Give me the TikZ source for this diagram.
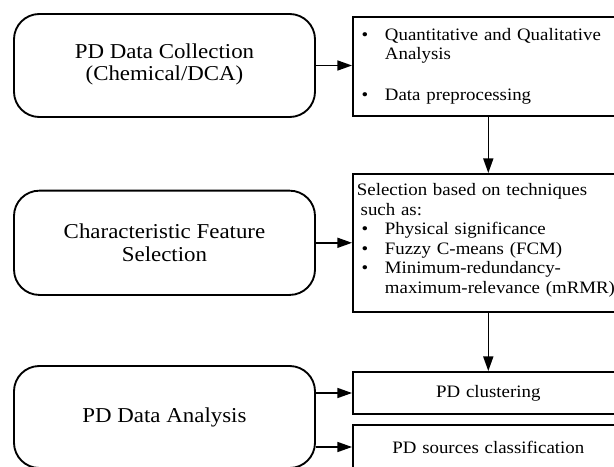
\documentclass[tikz,border=0pt]{standalone}
\usepackage{fontspec}
\setmainfont{Liberation Serif}[FakeStretch=1.08]
\usetikzlibrary{arrows.meta}

\tikzset{every picture/.style={line width=1.2pt}}
\tikzset{
  stagebox/.style={draw, rounded corners=19pt, line width=1.4pt, align=center,
    minimum width=225.75pt, font=\fontsize{15.9}{17}\selectfont},
  listbox/.style={draw, line width=1.4pt, align=left, text width=197pt,
    inner xsep=3pt, font=\fontsize{13.1}{14.6}\selectfont},
  flow/.style={-{Triangle[length=11pt,width=7.5pt]}, line width=1.2pt}
}
\newcommand{\bitem}[1]{\hspace*{3.5pt}\makebox[17.5pt][l]{\textbullet}#1}

\begin{document}
\begin{tikzpicture}[x=0.75pt,y=0.75pt,yscale=-1,xscale=1]
\useasboundingbox (0,0) rectangle (614,467);

% left column
\node[stagebox, minimum height=77.25pt] (coll) at (164.5,65.5) {PD Data Collection\\(Chemical/DCA)\rule[-5pt]{0pt}{5pt}};
\node[stagebox, minimum height=78.2pt] (feat) at (164.5,242.8) {Characteristic Feature\\Selection};
\node[stagebox, minimum height=76.5pt] (anal) at (164.5,417) {PD Data Analysis};

% right column
\node[listbox, minimum height=74.5pt] (prep) at (488.3,66.4) {%
  \bitem{Quantitative and Qualitative}\\
  \hspace*{21pt}Analysis\\[16pt]
  \bitem{Data preprocessing}};
\node[listbox, minimum height=103.5pt] (sel) at (488.3,243) {%
  Selection based on techniques\\
  \hspace*{2.8pt}such as:\\
  \bitem{Physical significance}\\
  \bitem{Fuzzy C-means (FCM)}\\
  \bitem{Minimum-redundancy-}\\
  \hspace*{21pt}maximum-relevance (mRMR)\rule[-7pt]{0pt}{7pt}};
\node[listbox, minimum height=31.5pt, align=center] (clus) at (488.3,393) {PD clustering};
\node[listbox, minimum height=33pt, align=center] (clas) at (488.3,447) {PD sources classification};

% connectors
\draw[flow] (coll.east) -- (coll.east -| prep.west);
\draw[flow] (prep) -- (sel);
\draw[flow] (feat.east) -- (feat.east -| sel.west);
\draw[flow] (sel) -- (clus);
\draw[flow] (anal.east |- clus.west) -- (clus.west);
\draw[flow] (anal.east |- clas.west) -- (clas.west);

\end{tikzpicture}
\end{document}
